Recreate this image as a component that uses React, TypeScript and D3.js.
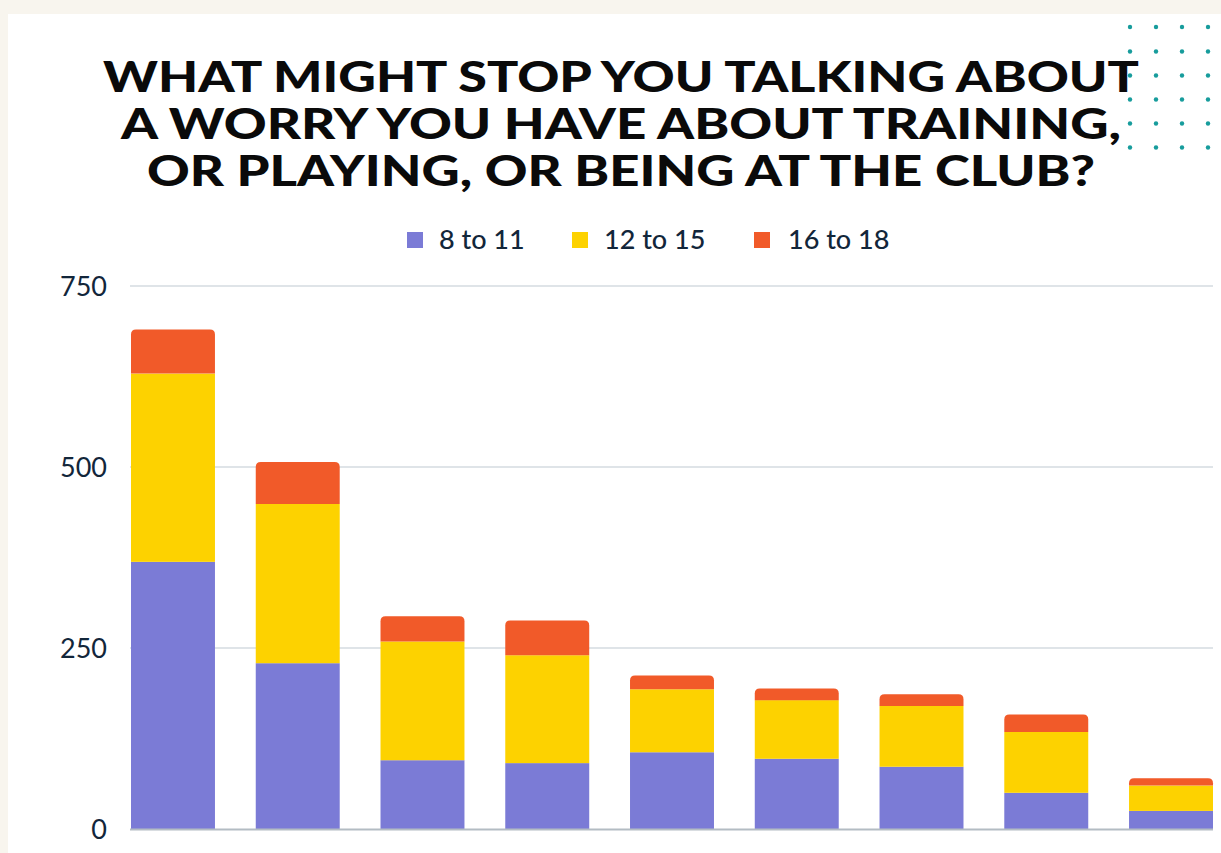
import React from "react";
import * as d3 from "d3";

const categories = ["A", "B", "C", "D", "E", "F", "G", "H", "I"];
const series = ["8 to 11", "12 to 15", "16 to 18"];
const age8to11 = [369, 229, 95, 91, 106, 97, 86, 50, 25];
const age12to15 = [260, 220, 164, 149, 87, 81, 84, 84, 35];
const age16to18 = [61, 58, 35, 48, 19, 16, 16, 24, 10];
const yTicks = [0, 250, 500, 750];
const titleLines = [
  "WHAT MIGHT STOP YOU TALKING ABOUT",
  "A WORRY YOU HAVE ABOUT TRAINING,",
  "OR PLAYING, OR BEING AT THE CLUB?",
];
const colors = ["#7b7bd6", "#fdd200", "#f15a29"];

const W = 1221;
const H = 853;

export default function App() {
  const rows = categories.map((c, i) => ({
    cat: c,
    s0: age8to11[i],
    s1: age12to15[i],
    s2: age16to18[i],
  }));
  const stack = d3.stack<any>().keys(["s0", "s1", "s2"]);
  const layers = stack(rows);

  const x = d3
    .scaleBand<string>()
    .domain(categories)
    .range([131, 1213])
    .paddingInner(0.327)
    .paddingOuter(0)
    .align(0);
  const y = d3.scaleLinear().domain([0, 750]).range([829, 286]);

  const r = 5;
  const topPath = (x0: number, w: number, yTop: number, yBot: number) => {
    const p = d3.path();
    p.moveTo(x0, yBot);
    p.lineTo(x0, yTop + r);
    p.quadraticCurveTo(x0, yTop, x0 + r, yTop);
    p.lineTo(x0 + w - r, yTop);
    p.quadraticCurveTo(x0 + w, yTop, x0 + w, yTop + r);
    p.lineTo(x0 + w, yBot);
    p.closePath();
    return p.toString();
  };

  const dotCols = [1130, 1156, 1182, 1208];
  const dotRows = [27, 51.5, 75.5, 99.5, 123.5, 147.5];

  const titleSpecs = [
    { y: 92, len: 1036 },
    { y: 139, len: 1000 },
    { y: 186, len: 948 },
  ];

  const legendItems = [
    { sq: 407, tx: 439 },
    { sq: 572, tx: 604 },
    { sq: 754, tx: 788 },
  ];

  const font = "Lato, 'Open Sans', sans-serif";

  return (
    <div style={{ position: "fixed", left: 0, top: 0, width: W, height: H }}>
      <svg width={W} height={H} style={{ display: "block" }}>
        <rect x={0} y={0} width={W} height={H} fill="#f8f5ee" />
        <rect x={8} y={14} width={W - 8} height={H - 14} fill="#ffffff" />

        {titleLines.map((t, i) => (
          <text
            key={i}
            x={621}
            y={titleSpecs[i].y}
            textAnchor="middle"
            fontFamily={font}
            fontWeight={900}
            fontSize={42}
            fill="#0a0a0a"
            textLength={titleSpecs[i].len}
            lengthAdjust="spacingAndGlyphs"
          >
            {t}
          </text>
        ))}

        {dotRows.map((dy, ri) =>
          dotCols.map((dx, ci) => (
            <circle key={`${ri}-${ci}`} cx={dx} cy={dy} r={2.2} fill="#179c9c" />
          ))
        )}

        {series.map((s, i) => (
          <g key={s}>
            <rect
              x={legendItems[i].sq}
              y={232}
              width={16}
              height={16}
              fill={colors[i]}
            />
            <text
              x={legendItems[i].tx}
              y={249}
              fontFamily={font}
              fontSize={27}
              fontWeight={500}
              fill="#12263a"
            >
              {s}
            </text>
          </g>
        ))}

        {yTicks.map((t) => (
          <g key={t}>
            {t !== 0 && (
              <line
                x1={130}
                x2={1213}
                y1={y(t)}
                y2={y(t)}
                stroke="#d5dbe0"
                strokeWidth={1.5}
              />
            )}
            <text
              x={107}
              y={y(t)}
              dy="0.36em"
              textAnchor="end"
              fontFamily={font}
              fontSize={27}
              fill="#12263a"
            >
              {t}
            </text>
          </g>
        ))}

        {layers.map((layer, li) => (
          <g key={li} fill={colors[li]}>
            {layer.map((d, i) => {
              const x0 = x(categories[i]) as number;
              const w = x.bandwidth();
              const yTop = y(d[1]);
              const yBot = y(d[0]);
              if (li === layers.length - 1) {
                return <path key={i} d={topPath(x0, w, yTop, yBot)} />;
              }
              return (
                <rect key={i} x={x0} y={yTop} width={w} height={yBot - yTop} />
              );
            })}
          </g>
        ))}

        <line
          x1={130}
          x2={1213}
          y1={y(0) + 0.5}
          y2={y(0) + 0.5}
          stroke="#b3bcc3"
          strokeWidth={2}
        />
      </svg>
    </div>
  );
}
